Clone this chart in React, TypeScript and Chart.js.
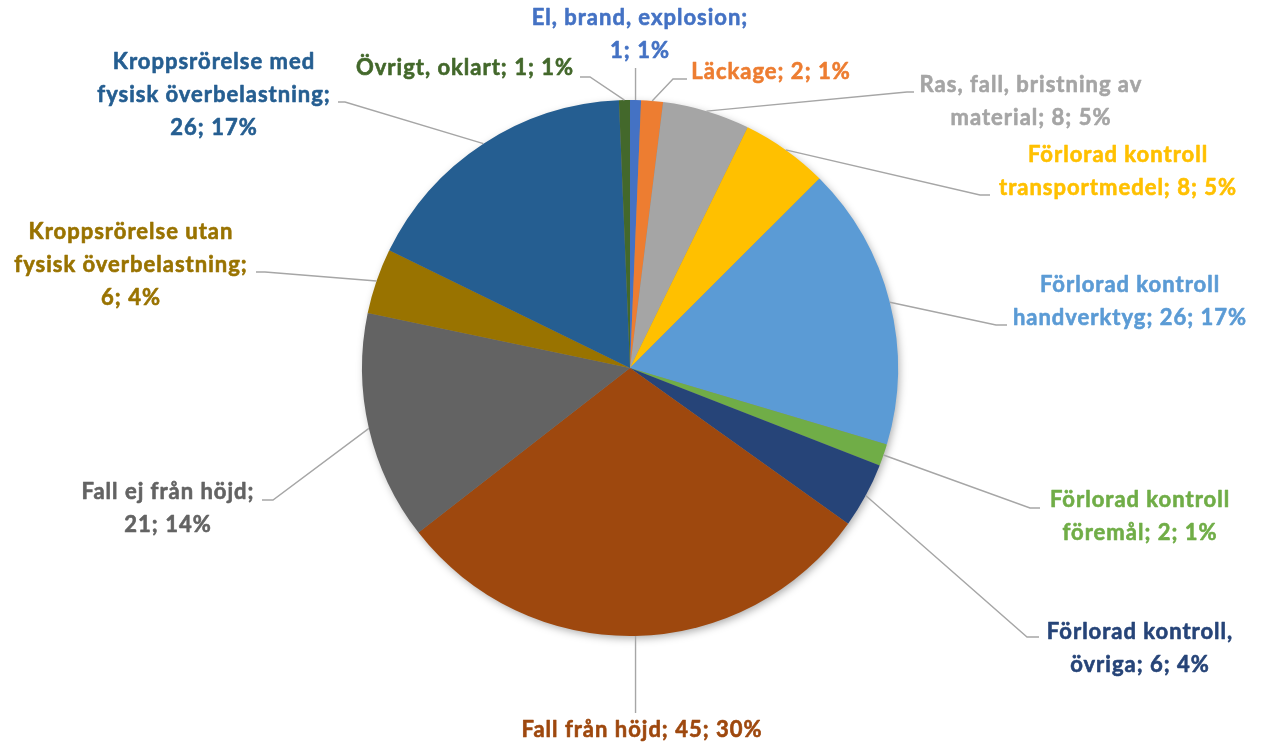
import React, { useEffect, useRef } from "react";
import { Chart, registerables } from "chart.js";

Chart.register(...registerables);

const categories: string[] = [
  "El, brand, explosion",
  "Läckage",
  "Ras, fall, bristning av material",
  "Förlorad kontroll transportmedel",
  "Förlorad kontroll handverktyg",
  "Förlorad kontroll föremål",
  "Förlorad kontroll, övriga",
  "Fall från höjd",
  "Fall ej från höjd",
  "Kroppsrörelse utan fysisk överbelastning",
  "Kroppsrörelse med fysisk överbelastning",
  "Övrigt, oklart",
];

const values: number[] = [1, 2, 8, 8, 26, 2, 6, 45, 21, 6, 26, 1];

const colors: string[] = [
  "#4472C4",
  "#ED7D31",
  "#A5A5A5",
  "#FFC000",
  "#5B9BD5",
  "#70AD47",
  "#264478",
  "#9E480E",
  "#636363",
  "#997300",
  "#255E91",
  "#43682B",
];

// words per wrapped label line
const lineWords: number[][] = [
  [3, 2],
  [4],
  [4, 3],
  [2, 3],
  [2, 3],
  [2, 3],
  [2, 3],
  [5],
  [4, 2],
  [2, 2, 2],
  [2, 2, 2],
  [5],
];

// label layout relative to pie centre (px): text centre x, first line y, elbow point, horizontal end
type LabelLayout = { cx: number; cy: number; ex: number | null; ey: number; hx: number | null };
const labelLayout: LabelLayout[] = [
  { cx: 10, cy: -350, ex: null, ey: -300, hx: null },
  { cx: 141, cy: -296, ex: 43, ey: -289, hx: 57 },
  { cx: 401, cy: -283, ex: 277, ey: -276, hx: 284 },
  { cx: 488, cy: -213, ex: 350, ey: -173, hx: 360 },
  { cx: 500, cy: -83, ex: 366, ey: -43, hx: 377 },
  { cx: 510, cy: 132, ex: 400, ey: 140, hx: 410 },
  { cx: 510, cy: 264, ex: 397, ey: 269, hx: 409 },
  { cx: 12, cy: 362, ex: null, ey: 345, hx: null },
  { cx: -462, cy: 124, ex: -357, ey: 132, hx: -368 },
  { cx: -499, cy: -136, ex: -365, ey: -96, hx: -374 },
  { cx: -416, cy: -306, ex: -285, ey: -266, hx: -292 },
  { cx: -165, cy: -300, ex: -40, ey: -291, hx: -50 },
];

const FONT = "bold 22px Lato";
const LETTER_SPACING = "1px";
const LINE_H = 33;

function labelLines(i: number, total: number): string[] {
  const pct = Math.round((values[i] / total) * 100);
  const words = `${categories[i]}; ${values[i]}; ${pct}%`.split(" ");
  const out: string[] = [];
  let k = 0;
  const counts = lineWords[i];
  counts.forEach((n, j) => {
    const take = j === counts.length - 1 ? words.length - k : n;
    out.push(words.slice(k, k + take).join(" "));
    k += take;
  });
  return out;
}

const shadowPlugin = {
  id: "pieShadow",
  beforeDatasetsDraw(chart: any) {
    const arc = chart.getDatasetMeta(0).data[0];
    if (!arc) return;
    const { x, y, outerRadius } = arc.getProps(["x", "y", "outerRadius"], true);
    const ctx = chart.ctx;
    ctx.save();
    ctx.shadowColor = "rgba(0,0,0,0.35)";
    ctx.shadowBlur = 9;
    ctx.shadowOffsetX = 2;
    ctx.shadowOffsetY = 3;
    ctx.fillStyle = "#888";
    ctx.beginPath();
    ctx.arc(x, y, outerRadius - 1, 0, Math.PI * 2);
    ctx.fill();
    ctx.restore();
  },
};

const labelPlugin = {
  id: "outLabels",
  afterDatasetsDraw(chart: any) {
    const ctx = chart.ctx;
    const meta = chart.getDatasetMeta(0);
    const total = values.reduce((a, b) => a + b, 0);
    meta.data.forEach((arc: any, i: number) => {
      const { x, y, startAngle, endAngle, outerRadius } = arc.getProps(
        ["x", "y", "startAngle", "endAngle", "outerRadius"],
        true
      );
      const mid = (startAngle + endAngle) / 2;
      const px = x + Math.cos(mid) * outerRadius;
      const py = y + Math.sin(mid) * outerRadius;
      const L = labelLayout[i];
      ctx.save();
      ctx.strokeStyle = "#A6A6A6";
      ctx.lineWidth = 1.4;
      ctx.beginPath();
      ctx.moveTo(px, py);
      if (L.ex === null) {
        ctx.lineTo(px, y + L.ey);
      } else {
        ctx.lineTo(x + L.ex, y + L.ey);
        if (L.hx !== null) ctx.lineTo(x + L.hx, y + L.ey);
      }
      ctx.stroke();
      ctx.fillStyle = colors[i];
      ctx.strokeStyle = colors[i];
      ctx.lineWidth = 0.6;
      ctx.lineJoin = "round";
      ctx.font = FONT;
      (ctx as any).letterSpacing = LETTER_SPACING;
      ctx.textAlign = "center";
      ctx.textBaseline = "middle";
      labelLines(i, total).forEach((line, j) => {
        ctx.fillText(line, x + L.cx, y + L.cy + j * LINE_H);
        ctx.strokeText(line, x + L.cx, y + L.cy + j * LINE_H);
      });
      ctx.restore();
    });
  },
};

export default function App() {
  const ref = useRef<HTMLCanvasElement | null>(null);
  useEffect(() => {
    if (!ref.current) return;
    const chart = new Chart(ref.current, {
      type: "pie",
      data: {
        labels: categories,
        datasets: [
          {
            data: values,
            backgroundColor: colors,
            borderWidth: 0,
          },
        ],
      },
      options: {
        responsive: false,
        animation: false,
        layout: { padding: { top: 100, bottom: 112, left: 362, right: 370 } },
        plugins: {
          legend: { display: false },
          tooltip: { enabled: false },
        },
      },
      plugins: [shadowPlugin, labelPlugin],
    });
    return () => chart.destroy();
  }, []);
  return (
    <div style={{ position: "fixed", left: 0, top: 0, width: 1268, height: 748, background: "#fff" }}>
      <canvas ref={ref} width={1268} height={748} style={{ display: "block" }} />
    </div>
  );
}
